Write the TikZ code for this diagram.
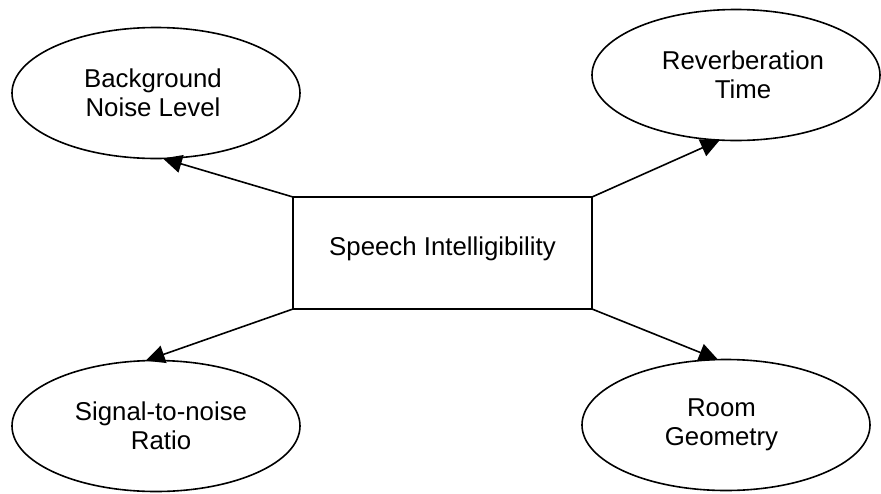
\documentclass[tikz,border=0pt]{standalone}
\usepackage{fontspec}
\setmainfont{Liberation Sans}
\usetikzlibrary{shapes.geometric,arrows.meta}
\begin{document}
\begin{tikzpicture}[x=1pt,y=-1pt,
  every node/.style={font=\fontsize{25.8pt}{29pt}\selectfont},
  factor/.style={draw,ellipse,line width=1.6pt,minimum width=288pt,minimum height=131pt,inner sep=0pt,outer sep=0pt},
  factortext/.style={inner sep=0pt,outer sep=0pt,align=center},
  centre/.style={draw,rectangle,line width=1.6pt,minimum width=299pt,minimum height=112pt,inner sep=0pt,outer sep=0pt,text depth=12.8pt},
  link/.style={line width=1.6pt,-{Triangle[length=19pt,width=18pt]}}]
\useasboundingbox (0,0) rectangle (881,493);
\node[centre] (si) at (442.5,253) {Speech Intelligibility};
\node[factor] (bg) at (156,93) {};
\node[factortext] (bgt) at (153,93) {Background\\Noise Level};
\node[factor] (rv) at (736,75) {};
\node[factortext] (rvt) at (743,75) {Reverberation\\Time};
\node[factor] (sn) at (156,426) {};
\node[factortext] (snt) at (161,426) {Signal-to-noise\\Ratio};
\node[factor] (rg) at (726,425) {};
\node[factortext] (rgt) at (721.5,425) {Room\\Geometry};
\draw[link] (si.north west) -- (bg.-84);
\draw[link] (si.north east) -- (rv.-104);
\draw[link] (si.south west) -- (sn.99);
\draw[link] (si.south east) -- (rg.97);
\end{tikzpicture}
\end{document}
